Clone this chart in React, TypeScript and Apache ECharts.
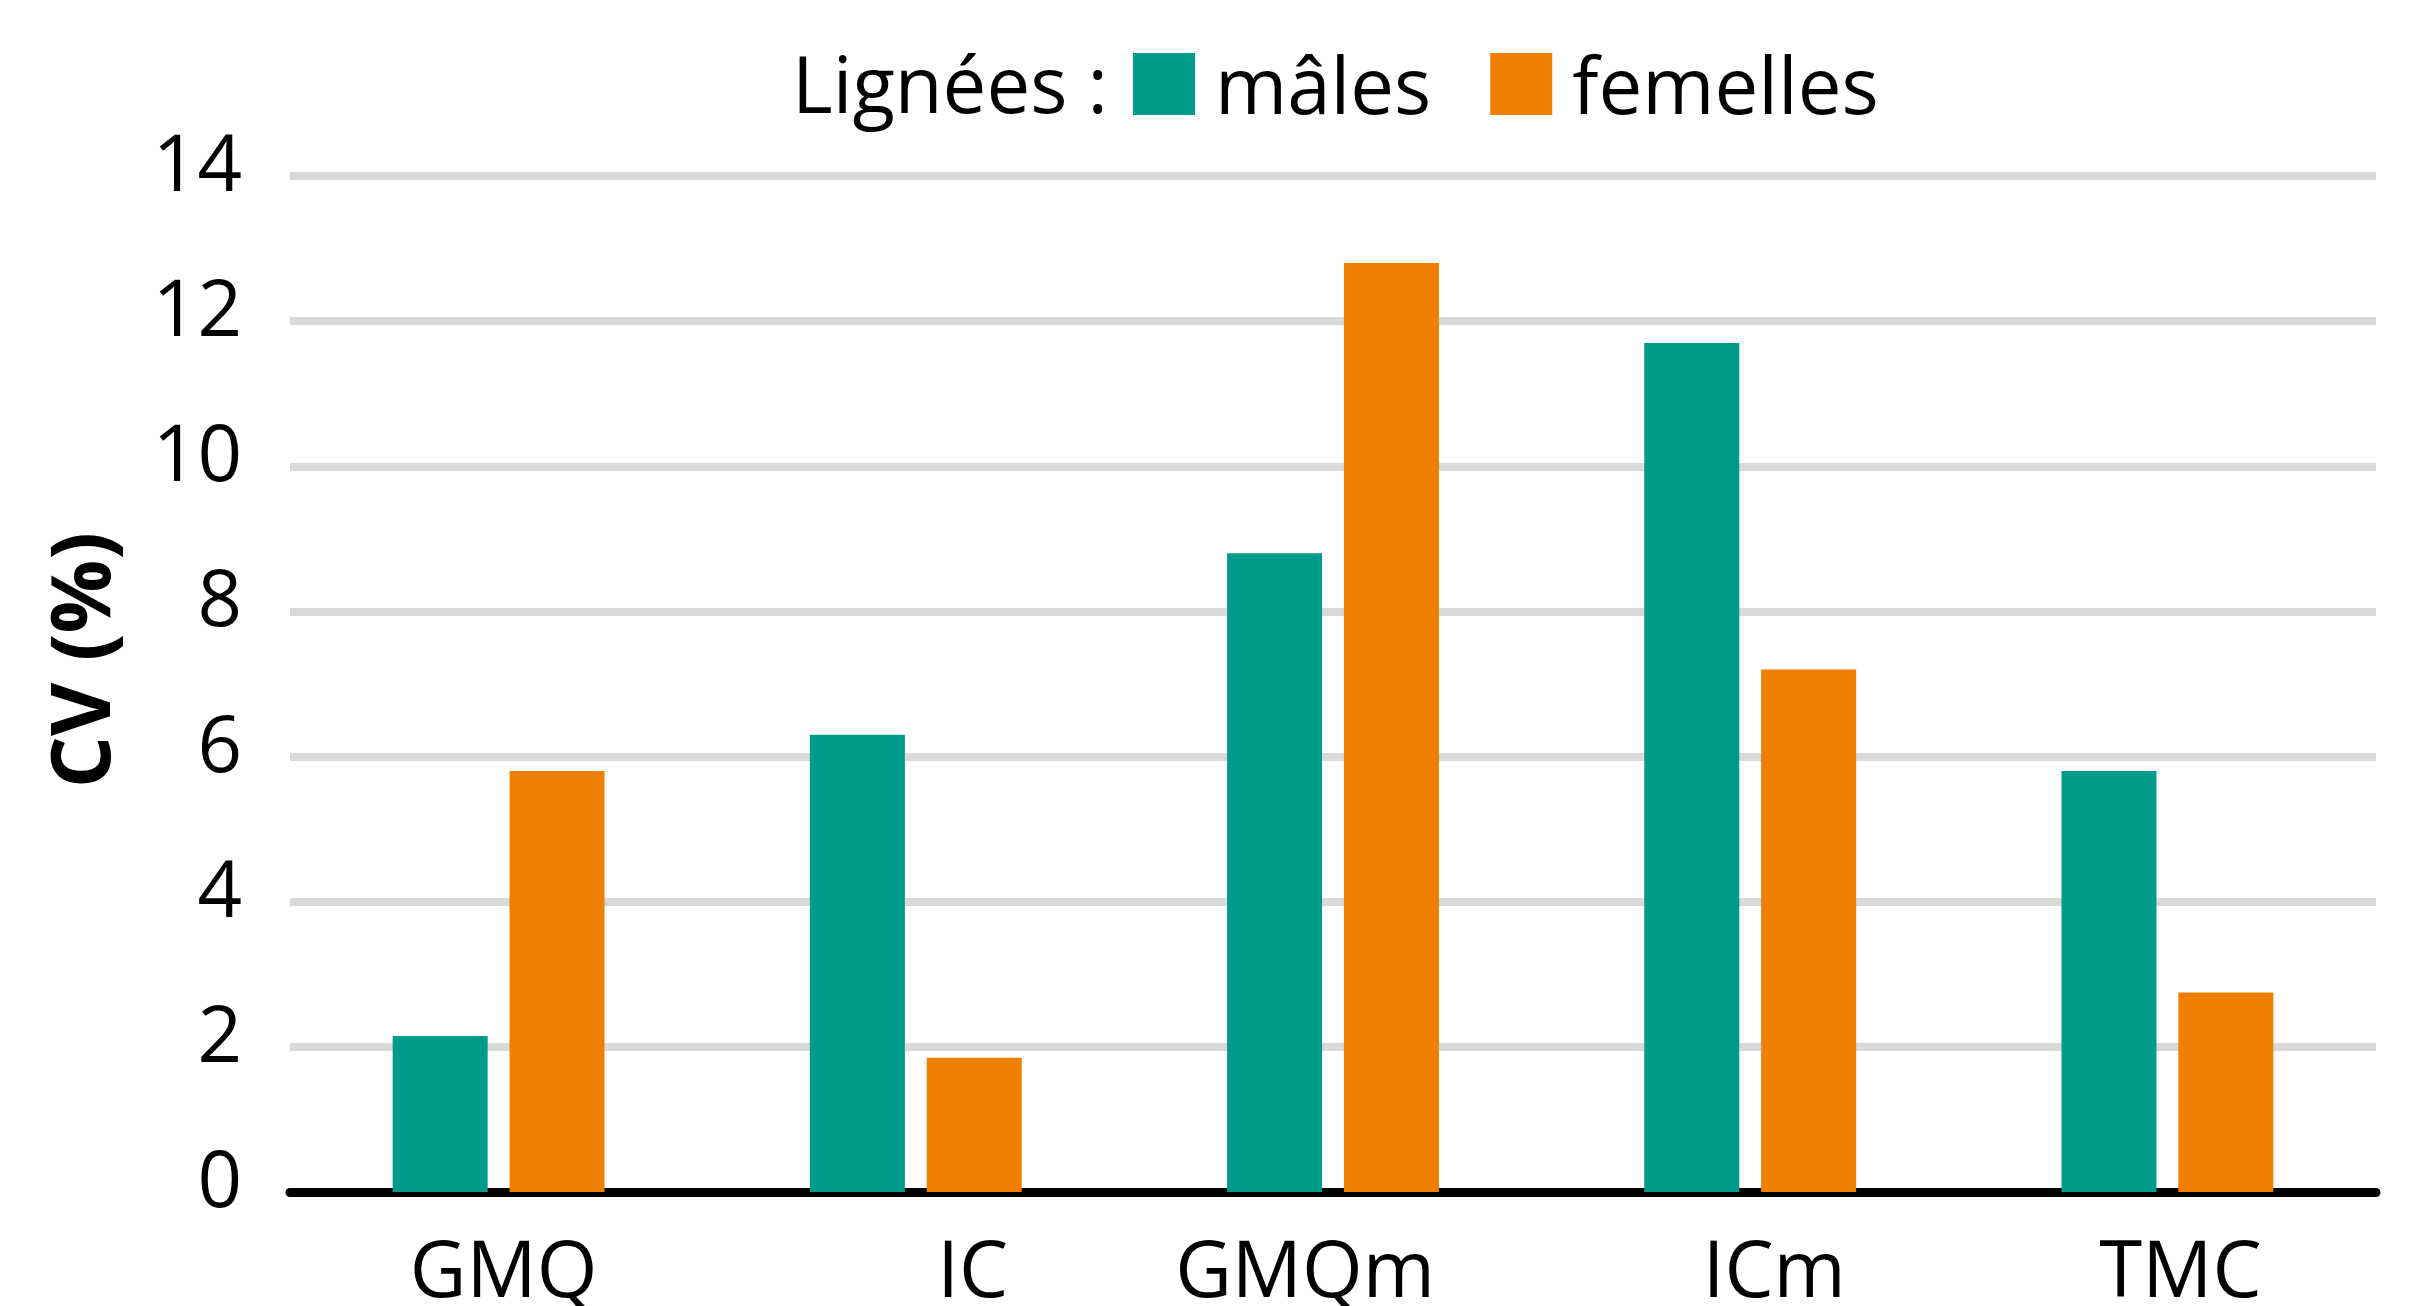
import React, { useEffect, useRef } from "react";
import * as echarts from "echarts";

const categories = ["GMQ", "IC", "GMQm", "ICm", "TMC"];
const malesValues = [2.15, 6.3, 8.8, 11.7, 5.8];
const femellesValues = [5.8, 1.85, 12.8, 7.2, 2.75];
const seriesNames = ["mâles", "femelles"];
const legendTitle = "Lignées :";
const yAxisTitle = "CV (%)";
const yMin = 0;
const yMax = 14;
const yInterval = 2;

// style-only: horizontal shift of each category label (px)
const labelShifts = [5, 57, -28, 24, 13];

const TEAL = "#009B8A";
const ORANGE = "#EF7F00";
const FONT = "'Open Sans', 'Noto Sans', sans-serif";

export default function App() {
  const ref = useRef<HTMLDivElement>(null);

  useEffect(() => {
    if (!ref.current) return;
    const chart = echarts.init(ref.current, null, { renderer: "svg" });

    const rich: Record<string, any> = {};
    labelShifts.forEach((s, i) => {
      rich["c" + i] = {
        fontSize: 78,
        fontFamily: FONT,
        color: "#000",
        padding: s >= 0 ? [0, 0, 0, 2 * s] : [0, -2 * s, 0, 0],
      };
    });

    chart.setOption({
      animation: false,
      backgroundColor: "#ffffff",
      textStyle: { fontFamily: FONT },
      grid: { left: 290, right: 35, top: 176, bottom: 113, containLabel: false },
      legend: {
        data: seriesNames,
        left: 1133,
        top: 45,
        padding: 0,
        icon: "rect",
        itemWidth: 62,
        itemHeight: 62,
        itemGap: 59,
        textStyle: {
          fontSize: 78,
          fontFamily: FONT,
          color: "#000",
          padding: [0, 0, 0, 15],
        },
      },
      graphic: [
        {
          type: "text",
          left: 792,
          top: 44,
          style: {
            text: legendTitle,
            fontSize: 78,
            fontFamily: FONT,
            fill: "#000",
          },
        },
        {
          type: "text",
          x: 78,
          y: 660,
          rotation: Math.PI / 2,
          style: {
            text: yAxisTitle,
            fontSize: 82,
            fontWeight: "bold",
            fontFamily: FONT,
            fill: "#000",
            align: "center",
            verticalAlign: "middle",
          },
        },
      ],
      xAxis: {
        type: "category",
        data: categories,
        axisLine: { show: true, lineStyle: { color: "#000", width: 9 } },
        axisTick: { show: false },
        axisLabel: {
          margin: 36,
          formatter: (value: string, index: number) => `{c${index}|${value}}`,
          rich,
        },
      },
      yAxis: {
        type: "value",
        min: yMin,
        max: yMax,
        interval: yInterval,
        axisLine: { show: false },
        axisTick: { show: false },
        axisLabel: {
          margin: 48,
          formatter: (value: number) => `{v|${value}}`,
          rich: {
            v: {
              fontSize: 78,
              fontFamily: FONT,
              color: "#000",
              padding: [0, 0, 30, 0],
            },
          },
        },
        splitLine: { lineStyle: { color: "#d9d9d9", width: 8 } },
      },
      series: [
        {
          name: seriesNames[0],
          type: "bar",
          data: malesValues,
          barWidth: 95,
          barGap: "23%",
          itemStyle: { color: TEAL },
        },
        {
          name: seriesNames[1],
          type: "bar",
          data: femellesValues,
          barWidth: 95,
          barGap: "23%",
          itemStyle: { color: ORANGE },
        },
      ],
    });

    return () => chart.dispose();
  }, []);

  return (
    <div
      ref={ref}
      style={{ position: "fixed", left: 0, top: 0, width: 2411, height: 1306 }}
    />
  );
}
